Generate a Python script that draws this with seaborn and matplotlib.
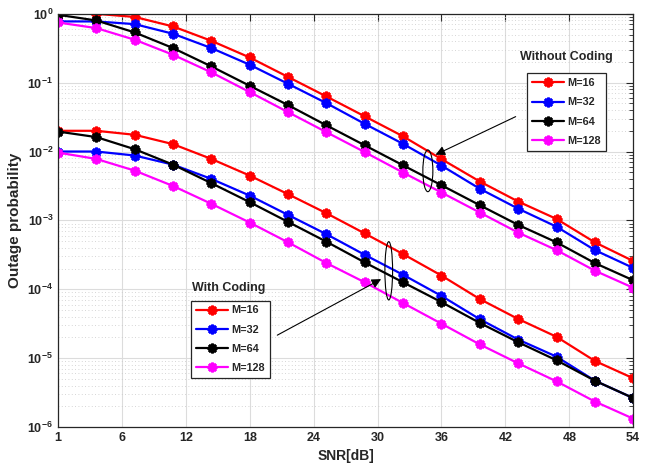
import numpy as np
import pandas as pd
import matplotlib
matplotlib.use("Agg")
import matplotlib.pyplot as plt
import seaborn as sns
from matplotlib.patches import Ellipse
from matplotlib.ticker import FixedLocator, FixedFormatter, LogLocator, NullFormatter

# SNR sample points (dB) and tick labels
snr = [0, 3.6, 7.2, 10.8, 14.4, 18, 21.6, 25.2, 28.8, 32.4, 36, 39.6, 43.2, 46.8, 50.4, 54]
xtick_pos = [0, 6, 12, 18, 24, 30, 36, 42, 48, 54]
xtick_labels = ["1", "6", "12", "18", "24", "30", "36", "42", "48", "54"]

# Without coding
nc_m16 = [1.0, 1.0, 0.90, 0.655, 0.405, 0.232, 0.121, 0.063, 0.0324, 0.0166,
          0.00776, 0.00367, 0.00188, 0.00105, 0.00048, 0.000257]
nc_m32 = [0.775, 0.775, 0.708, 0.513, 0.318, 0.182, 0.0962, 0.0504, 0.0252, 0.0129,
          0.00625, 0.00288, 0.00148, 0.00081, 0.00037, 0.000204]
nc_m64 = [0.967, 0.80, 0.536, 0.318, 0.172, 0.090, 0.0472, 0.024, 0.0123, 0.0063,
          0.00324, 0.00166, 0.00086, 0.00048, 0.00024, 0.000135]
nc_m128 = [0.748, 0.62, 0.42, 0.254, 0.141, 0.073, 0.0373, 0.0191, 0.0098, 0.00495,
           0.00254, 0.0013, 0.000665, 0.00037, 0.000186, 0.000105]

# With coding
wc_m16 = [0.020, 0.020, 0.0175, 0.0128, 0.0078, 0.00447, 0.0024, 0.00127, 0.000646, 0.000324,
          0.000158, 7.2e-5, 3.7e-5, 2.04e-5, 9.1e-6, 5.1e-6]
wc_m32 = [0.0100, 0.0100, 0.00875, 0.00645, 0.0040, 0.00229, 0.0012, 0.00063, 0.000316, 0.000162,
          8.0e-5, 3.67e-5, 1.86e-5, 1.05e-5, 4.7e-6, 2.63e-6]
wc_m64 = [0.0195, 0.0162, 0.0108, 0.00645, 0.00347, 0.00184, 0.00095, 0.00049, 0.000245, 0.000126,
          6.5e-5, 3.24e-5, 1.7e-5, 9.3e-6, 4.7e-6, 2.63e-6]
wc_m128 = [0.00966, 0.0078, 0.00528, 0.00316, 0.00174, 0.00093, 0.00048, 0.00024, 0.000126, 6.3e-5,
           3.16e-5, 1.58e-5, 8.4e-6, 4.6e-6, 2.34e-6, 1.32e-6]

labels = ["M=16", "M=32", "M=64", "M=128"]
colors = ["#ff0000", "#0000ff", "#000000", "#ff00ff"]

sns.set_style("white")
plt.rcParams["font.family"] = ["Liberation Sans", "DejaVu Sans"]
plt.rcParams["font.weight"] = "bold"
plt.rcParams["mathtext.fontset"] = "custom"
plt.rcParams["mathtext.rm"] = "Liberation Sans:bold"
plt.rcParams["mathtext.bf"] = "Liberation Sans:bold"
plt.rcParams["mathtext.default"] = "rm"

fig = plt.figure(figsize=(6.54, 4.76), dpi=100)
ax = fig.add_axes([0.0887, 0.103, 0.8795, 0.868])


def draw_group(series):
    handles = []
    for vals, lab, col in zip(series, labels, colors):
        df = pd.DataFrame({"snr": snr, "p": vals})
        sns.lineplot(data=df, x="snr", y="p", ax=ax, color=col, linewidth=1.6)
        ln = ax.lines[-1]
        # MATLAB-style thick asterisk marker
        ln.set_marker((8, 2, 0))
        ln.set_markersize(7)
        ln.set_markeredgewidth(1.9)
        ln.set_markeredgecolor(col)
        ln.set_markerfacecolor(col)
        handles.append(ln)
    return handles


h_nc = draw_group([nc_m16, nc_m32, nc_m64, nc_m128])
h_wc = draw_group([wc_m16, wc_m32, wc_m64, wc_m128])

ax.set_yscale("log")
ax.set_xlim(0, 54)
ax.set_ylim(1e-6, 1)

ax.xaxis.set_major_locator(FixedLocator(xtick_pos))
ax.xaxis.set_major_formatter(FixedFormatter(xtick_labels))
ypos = [1e-6, 1e-5, 1e-4, 1e-3, 1e-2, 1e-1, 1]
ylab = [r"$10^{-6}$", r"$10^{-5}$", r"$10^{-4}$", r"$10^{-3}$", r"$10^{-2}$", r"$10^{-1}$", r"$10^{0}$"]
ax.yaxis.set_major_locator(FixedLocator(ypos))
ax.yaxis.set_major_formatter(FixedFormatter(ylab))
ax.yaxis.set_minor_locator(LogLocator(base=10, subs=np.arange(2, 10), numticks=20))
ax.yaxis.set_minor_formatter(NullFormatter())

ax.tick_params(which="both", direction="in", top=True, right=True, labelsize=9)
ax.tick_params(which="major", length=5, width=0.8)
ax.tick_params(which="minor", length=3, width=0.6)
ax.grid(which="major", color="#dcdcdc", linewidth=0.8, linestyle="-")
ax.grid(which="minor", axis="y", color="#c8c8c8", linewidth=0.6, linestyle=(0, (1, 3)))
ax.set_axisbelow(True)
for s in ax.spines.values():
    s.set_color("#262626")
    s.set_linewidth(0.9)

ax.set_xlabel("SNR[dB]", fontsize=10, fontweight="bold", labelpad=4)
ax.set_ylabel("Outage probability", fontsize=11, fontweight="bold", labelpad=4)

leg_kw = dict(frameon=True, fancybox=False, edgecolor="#262626",
              framealpha=1, handlelength=3.0, labelspacing=0.85, borderpad=0.45,
              handletextpad=0.3, borderaxespad=0, prop={"weight": "bold", "size": 7.8})
leg1 = ax.legend(h_nc, labels, loc="upper left", bbox_to_anchor=(0.815, 0.856), **leg_kw)
leg1.get_frame().set_linewidth(0.9)
ax.add_artist(leg1)
leg2 = ax.legend(h_wc, labels, loc="upper left", bbox_to_anchor=(0.231, 0.306), **leg_kw)
leg2.get_frame().set_linewidth(0.9)

ax.text(0.883, 0.896, "Without Coding", transform=ax.transAxes, ha="center", va="center",
        fontsize=9, fontweight="bold")
ax.text(0.297, 0.337, "With Coding", transform=ax.transAxes, ha="center", va="center",
        fontsize=9, fontweight="bold")

ax.add_patch(Ellipse((0.643, 0.620), 0.0174, 0.101, transform=ax.transAxes,
                     fill=False, edgecolor="black", linewidth=0.8, zorder=5))
ax.add_patch(Ellipse((0.575, 0.378), 0.0134, 0.141, transform=ax.transAxes,
                     fill=False, edgecolor="black", linewidth=0.8, zorder=5))
ax.annotate("", xy=(0.652, 0.656), xytext=(0.80, 0.754), xycoords="axes fraction",
            arrowprops=dict(arrowstyle="-|>", color="black", lw=0.8, mutation_scale=14))
ax.annotate("", xy=(0.566, 0.361), xytext=(0.377, 0.219), xycoords="axes fraction",
            arrowprops=dict(arrowstyle="-|>", color="black", lw=0.8, mutation_scale=14))

fig.savefig("out.png", dpi=100)
